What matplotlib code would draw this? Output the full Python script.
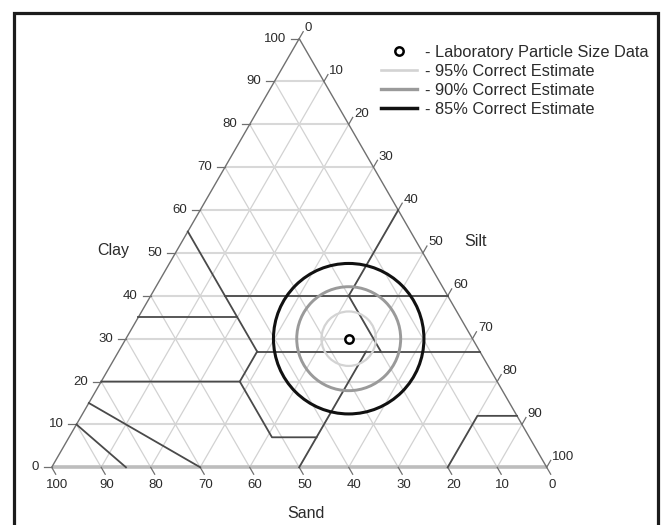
import numpy as np
import matplotlib
matplotlib.use('Agg')
import matplotlib.pyplot as plt
from matplotlib.patches import Circle
from matplotlib.lines import Line2D

plt.rcParams['font.family'] = ['Liberation Sans', 'DejaVu Sans']

# ---------------- data ----------------
tick_values = list(range(0, 101, 10))
grid_levels = list(range(10, 100, 10))

# USDA texture class boundaries, polylines of (sand, silt, clay)
boundaries = [
    [(45, 0, 55), (45, 28, 27)],
    [(65, 0, 35), (45, 20, 35)],
    [(45, 15, 40), (0, 60, 40)],
    [(20, 40, 40), (0, 40, 60)],
    [(20, 40, 40), (20, 53, 27)],
    [(45, 28, 27), (0, 73, 27)],
    [(45, 28, 27), (52, 28, 20), (80, 0, 20)],
    [(52, 28, 20), (52, 41, 7), (43, 50, 7)],
    [(23, 50, 27), (50, 50, 0)],
    [(90, 0, 10), (85, 15, 0)],
    [(85, 0, 15), (70, 30, 0)],
    [(20, 80, 0), (8, 80, 12), (0, 88, 12)],
]

# laboratory particle size data (sand, silt, clay)
lab_sand, lab_silt, lab_clay = 25, 45, 30

# confidence circles (radius in % of triangle side)
est_labels = ['- 95% Correct Estimate', '- 90% Correct Estimate', '- 85% Correct Estimate']
est_radius = [5.5, 10.5, 15.2]
est_colors = ['#d3d3d3', '#9a9a9a', '#111111']
est_widths = [1.6, 2.1, 2.2]

lab_label = '- Laboratory Particle Size Data'

# ---------------- figure ----------------
W, H = 661, 525
PX0, PY0, S = 51.7, 467.3, 4.95   # pixel position of the sand vertex, px per unit
fig = plt.figure(figsize=(W / 100, H / 100), dpi=100)
ax = fig.add_axes([0, 0, 1, 1])
ax.set_xlim(-PX0 / S, (W - PX0) / S)
ax.set_ylim((PY0 - H) / S, PY0 / S)
ax.axis('off')

R3 = np.sqrt(3) / 2


def tern(sand, silt, clay):
    return silt + clay / 2.0, clay * R3


def px(xp, yp):
    return (xp - PX0) / S, (PY0 - yp) / S


TXT = '#2b2b2b'

# grid
for k in grid_levels:
    segs = [((100 - k, 0, k), (0, 100 - k, k), '#d8d8d8', 1.5),
            ((k, 100 - k, 0), (k, 0, 100 - k), '#d2d2d2', 0.9),
            ((100 - k, k, 0), (0, k, 100 - k), '#d2d2d2', 0.9)]
    for a, b, c, lw in segs:
        xa, ya = tern(*a)
        xb, yb = tern(*b)
        ax.plot([xa, xb], [ya, yb], color=c, lw=lw, zorder=1, solid_capstyle='butt')

# triangle sides
x0, y0 = tern(100, 0, 0)
x1, y1 = tern(0, 100, 0)
x2, y2 = tern(0, 0, 100)
ax.plot([x0, x1], [y0, y1], color='#bdbdbd', lw=2.6, zorder=2, solid_capstyle='butt')
ax.plot([x0, x2, x1], [y0, y2, y1], color='#707070', lw=1.0, zorder=3)

# class boundaries
for line in boundaries:
    pts = np.array([tern(*p) for p in line])
    ax.plot(pts[:, 0], pts[:, 1], color='#4a4a4a', lw=1.3, zorder=4)

# ticks and tick labels
tl = 8 / S
fs_tick = 9.5
for k in tick_values:
    # clay (left side)
    x, y = tern(100 - k, 0, k)
    ax.plot([x - tl, x], [y, y], color='#707070', lw=0.9, zorder=3)
    ax.text(x - 13 / S, y, str(k), ha='right', va='center', fontsize=fs_tick, color=TXT)
    # sand (bottom)
    x, y = tern(k, 100 - k, 0)
    ax.plot([x, x + 0.5 * tl], [y, y - R3 * tl], color='#707070', lw=0.9, zorder=3)
    ax.text(x + 5.5 / S, y - 17.7 / S, str(k), ha='center', va='center', fontsize=fs_tick, color=TXT)
    # silt (right side)
    x, y = tern(0, k, 100 - k)
    ax.plot([x, x + 0.5 * tl], [y, y + R3 * tl], color='#707070', lw=0.9, zorder=3)
    ax.text(x + 5.5 / S, y + 10.5 / S, str(k), ha='left', va='center', fontsize=fs_tick, color=TXT)

# axis titles
fs_lab = 11.5
ax.text(*px(113.3, 251), 'Clay', ha='center', va='center', fontsize=fs_lab, color=TXT)
ax.text(*px(475.5, 241), 'Silt', ha='center', va='center', fontsize=fs_lab, color=TXT)
ax.text(*px(306, 513), 'Sand', ha='center', va='center', fontsize=fs_lab, color=TXT)

# estimate circles
cx, cy = tern(lab_sand, lab_silt, lab_clay)
for r, c, lw in zip(est_radius, est_colors, est_widths):
    ax.add_patch(Circle((cx, cy), r, fill=False, edgecolor=c, lw=lw, zorder=5))

# lab point
ax.plot([cx], [cy], 'o', ms=6, mfc='white', mec='black', mew=1.8, zorder=6)

# legend
handles = [Line2D([], [], ls='none', marker='o', ms=6, mfc='white', mec='black', mew=1.8)]
for c, lw in zip(est_colors, est_widths):
    handles.append(Line2D([], [], color=c, lw=lw + 0.3))
leg = ax.legend(handles, [lab_label] + est_labels, loc='upper left',
                bbox_to_anchor=px(381, 44.5), bbox_transform=ax.transData,
                frameon=False, fontsize=11.8, handlelength=2.2, handletextpad=0.5,
                labelspacing=0.25, borderpad=0, borderaxespad=0, numpoints=1)
for t in leg.get_texts():
    t.set_color(TXT)

# outer frame (bottom edge lies outside the picture)
fx = [13.5, 13.5, 657.5, 657.5]
fy = [540, 13, 13, 540]
pts = np.array([px(a, b) for a, b in zip(fx, fy)])
ax.plot(pts[:, 0], pts[:, 1], color='#1c1c1c', lw=2.3, clip_on=False, zorder=10,
        solid_joinstyle='miter')

fig.savefig('out.png', dpi=100)
